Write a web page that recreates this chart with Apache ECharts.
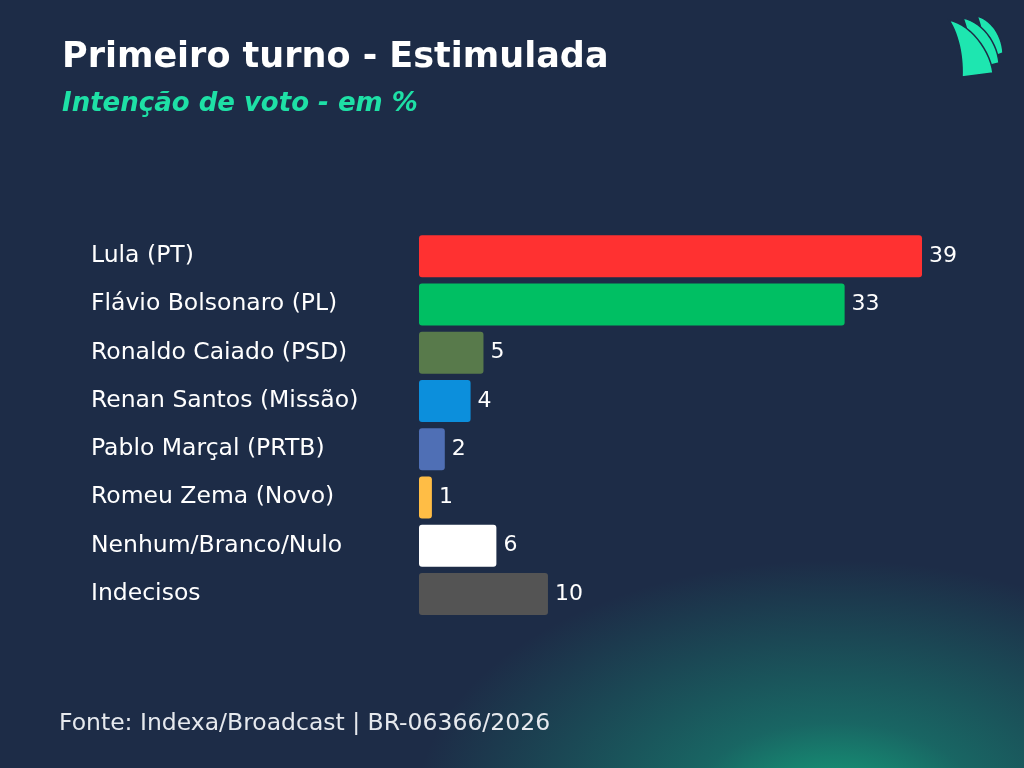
<!DOCTYPE html>
<html>
<head>
<meta charset="utf-8">
<script src="https://cdn.jsdelivr.net/npm/echarts@6/dist/echarts.min.js"></script>
<style>
html,body{margin:0;padding:0;width:1024px;height:768px;overflow:hidden;}
body{background:
  radial-gradient(ellipse 420px 250px at 835px 810px, rgba(20,172,128,0.95) 0%, rgba(22,140,118,0.6) 35%, rgba(29,44,71,0) 100%),
  #1d2c47;}
#chart{width:1024px;height:768px;}
</style>
</head>
<body>
<div id="chart"></div>
<script>
const categories = ["Lula (PT)", "Flávio Bolsonaro (PL)", "Ronaldo Caiado (PSD)", "Renan Santos (Missão)", "Pablo Marçal (PRTB)", "Romeu Zema (Novo)", "Nenhum/Branco/Nulo", "Indecisos"];
const values = [39, 33, 5, 4, 2, 1, 6, 10];
const barColors = ["#ff3131", "#00bf63", "#587a4b", "#0c8fdc", "#4f6fb5", "#ffbd45", "#ffffff", "#545454"];
const titleText = "Primeiro turno - Estimulada";
const subtitleText = "Intenção de voto - em %";
const sourceText = "Fonte: Indexa/Broadcast | BR-06366/2026";

const FONT = "DejaVu Sans";
const chart = echarts.init(document.getElementById('chart'));

// logo helper: sample cubic bezier into polygon points
function cubic(p0, p1, p2, p3, n) {
  const pts = [];
  for (let i = 1; i <= n; i++) {
    const t = i / n, u = 1 - t;
    pts.push([
      u*u*u*p0[0] + 3*u*u*t*p1[0] + 3*u*t*t*p2[0] + t*t*t*p3[0],
      u*u*u*p0[1] + 3*u*u*t*p1[1] + 3*u*t*t*p2[1] + t*t*t*p3[1]
    ]);
  }
  return pts;
}
function sail(tip, c1, c2, br, bl, c3, c4) {
  let pts = [tip];
  pts = pts.concat(cubic(tip, c1, c2, br, 14));
  pts.push(bl);
  pts = pts.concat(cubic(bl, c3, c4, tip, 14));
  return pts;
}
const logoBack = sail([977, 16], [992, 20], [1002, 36], [1003, 53], [984, 60], [984, 44], [982, 28]);
const logoMid = sail([963, 18], [982, 22], [997, 42], [999, 63], [971, 70], [971, 50], [968, 30]);
const logoFront = sail([949, 20], [970, 24], [990, 50], [993, 73], [962, 77], [963, 55], [958, 34]);

chart.setOption({
  backgroundColor: 'transparent',
  title: [
    { text: titleText, left: 57, top: 35, textStyle: { color: '#ffffff', fontFamily: FONT, fontWeight: 'bold', fontSize: 35 } },
    { text: subtitleText, left: 57, top: 86, textStyle: { color: '#1ee0a6', fontFamily: FONT, fontWeight: 'bold', fontStyle: 'italic', fontSize: 26 } },
    { text: sourceText, left: 54, top: 707, textStyle: { color: '#e6e9ee', fontFamily: FONT, fontWeight: 'normal', fontSize: 23.5 } }
  ],
  grid: { left: 419, right: 102, top: 232, height: 386, containLabel: false },
  xAxis: { type: 'value', min: 0, max: 39, show: false },
  yAxis: {
    type: 'category', data: categories, inverse: true,
    axisLine: { show: false }, axisTick: { show: false }, splitLine: { show: false },
    axisLabel: { align: 'left', margin: 328, color: '#ffffff', fontFamily: FONT, fontSize: 23.5, padding: [0, 0, 4, 0] }
  },
  series: [{
    type: 'bar',
    data: values.map((v, i) => ({ value: v, itemStyle: { color: barColors[i] } })),
    barWidth: 42,
    itemStyle: { borderRadius: 3 },
    label: { show: true, position: 'right', distance: 7, color: '#ffffff', fontFamily: FONT, fontSize: 22 },
    animation: false
  }],
  graphic: [
    { type: 'polygon', shape: { points: logoBack }, style: { fill: '#1ee6b0', stroke: '#1d2c47', lineWidth: 1.5 } },
    { type: 'polygon', shape: { points: logoMid }, style: { fill: '#1ee6b0', stroke: '#1d2c47', lineWidth: 1.5 } },
    { type: 'polygon', shape: { points: logoFront }, style: { fill: '#1ee6b0', stroke: '#1d2c47', lineWidth: 1.5 } }
  ]
});
</script>
</body>
</html>
